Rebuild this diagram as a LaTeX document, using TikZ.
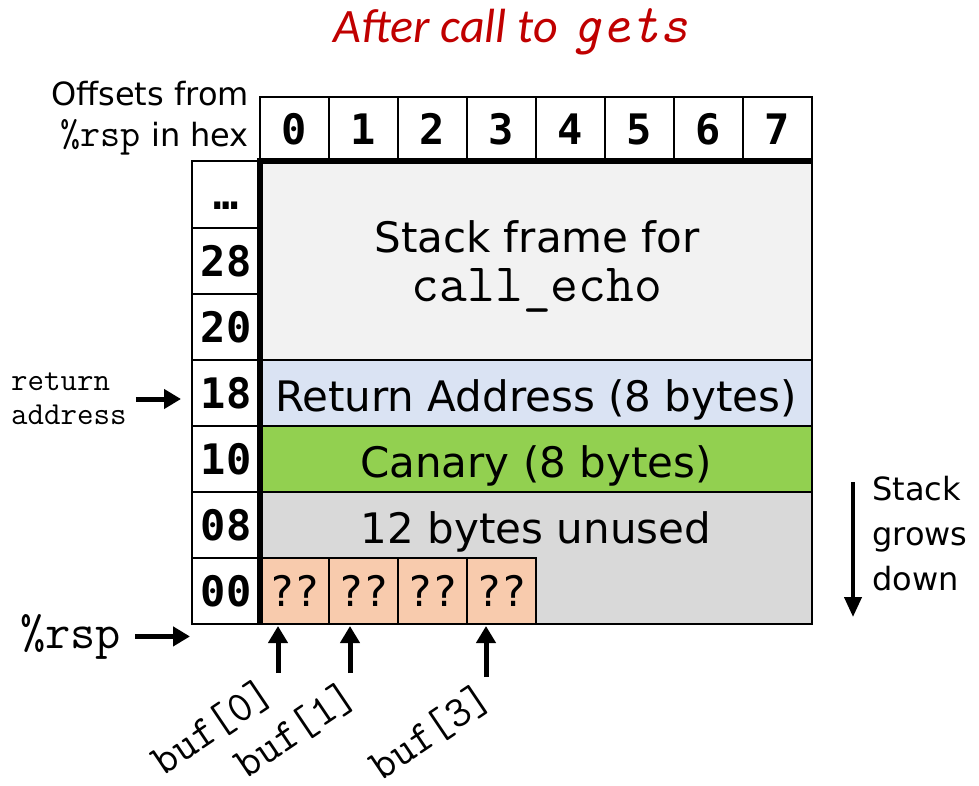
\documentclass[tikz,border=0pt]{standalone}
\usepackage{fontspec}
\setmainfont{DejaVu Sans}
\newfontfamily\bmono{DejaVu Sans Mono}
\newfontfamily\titlefont{Carlito}
\usetikzlibrary{arrows.meta,calc}
\definecolor{titlered}{HTML}{C00000}
\definecolor{sfgray}{HTML}{F2F2F2}
\definecolor{rablue}{HTML}{DAE3F3}
\definecolor{cgreen}{HTML}{92D050}
\definecolor{ugray}{HTML}{D9D9D9}
\definecolor{qorange}{HTML}{F8CBAD}
\newcommand\setfs[2]{\fontsize{#1}{#2}\selectfont}
\begin{document}
\begin{tikzpicture}[x=1pt,y=-1pt,
  cellbase/.style={draw, line width=2pt, inner sep=0pt, outer sep=0pt},
  hdr/.style={cellbase, minimum width=69pt, minimum height=64pt, font={\bmono\bfseries\setfs{42}{50}}},
  lcell/.style={cellbase, minimum width=68pt, minimum height=66pt, font={\bmono\bfseries\setfs{42}{50}}},
  area/.style={cellbase, minimum width=552pt},
  areatxt/.style={area, minimum height=66pt, text height=40pt, text depth=4pt, font={\setfs{42}{54}}},
  qcell/.style={cellbase, fill=qorange, minimum width=69pt, minimum height=66pt, font={\bmono\setfs{42}{50}}},
  bigtxt/.style={inner sep=0pt, font={\setfs{42}{54}}},
  sidetxt/.style={inner sep=0pt, font={\setfs{32}{45}}},
  buflbl/.style={inner sep=0pt, anchor=east, rotate=34, font={\ttfamily\setfs{44}{50}}},
  arr/.style={line width=5pt, -{Triangle[length=17pt,width=19pt]}},
  heavy/.style={line width=6pt},
]
\useasboundingbox (0,0) rectangle (979,786);

% title
\node[anchor=base, inner sep=0pt, text=titlered, font={\setfs{48}{56}}] (title) at (511,43)
  {{\titlefont\itshape After call to} {\ttfamily\itshape\setfs{55}{56}gets}};

% main areas
\node[area, fill=sfgray, minimum height=199pt] (sf) at (536,260.5) {};
\node[areatxt, fill=rablue] (ra) at (536,393) {Return Address (8 bytes)};
\node[areatxt, fill=cgreen] (ca) at (536,459) {Canary (8 bytes)};
\node[area, fill=ugray, minimum height=132pt] (un) at (536,558) {};

% buffer cells
\foreach \i in {0,1,2,3}
  \node[qcell] (q\i) at ({294.5+69*\i},591) {??};

% header cells
\foreach \i in {0,...,7}
  \node[hdr] (h\i) at ({294.5+69*\i},129) {\i};

% left offset cells
\node[lcell, minimum height=67pt] (cdots) at (226,194.5) {\vphantom{28}…};
\node[lcell] (c28) at (226,261) {28};
\node[lcell] (c20) at (226,327) {20};
\node[lcell] (c18) at (226,393) {18};
\node[lcell] (c10) at (226,459) {10};
\node[lcell] (c08) at (226,525) {08};
\node[lcell] (c00) at (226,591) {00};

% heavy lines
\draw[heavy] ($(h0.south west)+(-3,0)$) -- ($(h7.south east)+(1,0)$);
\draw[heavy] ($(h0.south west)+(0,-3)$) -- (c00.south east);

% texts in areas
\node[bigtxt, anchor=base] (sft1) at (537,252) {Stack frame for};
\node[inner sep=0pt, anchor=base, font={\ttfamily\setfs{54}{56}}] (sft2) at (537,301) {call\_echo};
\node[areatxt, draw=none, fill=none, minimum height=0pt, minimum width=0pt] (untext) at (un.center |- c08) {12 bytes unused};

% offsets label
\node[sidetxt, anchor=base east] (off1) at (249,106) {Offsets from};
\node[sidetxt, anchor=base east] (off2) at (249,147) {{\ttfamily\setfs{39}{45}\%rsp} in hex};

% return address label
\node[inner sep=0pt, anchor=west, align=left, font={\ttfamily\setfs{32}{34}}] (ret) at (11,399) {return\\address};
\draw[arr] ($(ret.east)+(9,0)$) -- ($(ret.east -| c18.west)+(-11,0)$);

% %rsp label
\node[inner sep=0pt, anchor=base west, font={\ttfamily\setfs{49}{52}}] (rsp) at (20,648) {\%rsp};
\draw[arr] ($(rsp.east)+(14,0)$) -- ($(rsp.east -| c00.south west)+(-2,0)$);

% buf arrows
\draw[arr] ($(q0.south west)+(18,49)$) -- ($(q0.south west)+(18,2)$);
\draw[arr] ($(q1.south west)+(21,49)$) -- ($(q1.south west)+(21,2)$);
\draw[arr] ($(q3.south west)+(19,53)$) -- ($(q3.south west)+(19,2)$);

% buf labels
\node[buflbl] (b0) at (269,689) {buf[0]};
\node[buflbl] (b1) at (352,692) {buf[1]};
\node[buflbl] (b3) at (487,694) {buf[3]};

% stack grows down
\coordinate (sgtop) at (853,482);
\coordinate (sgbot) at (853,617);
\draw[line width=4pt, -{Triangle[length=20pt,width=17pt]}] (sgtop) -- (sgbot);
\node[sidetxt, anchor=west, align=left] (sgt) at (872,534) {Stack\\grows\\down};
\end{tikzpicture}
\end{document}
